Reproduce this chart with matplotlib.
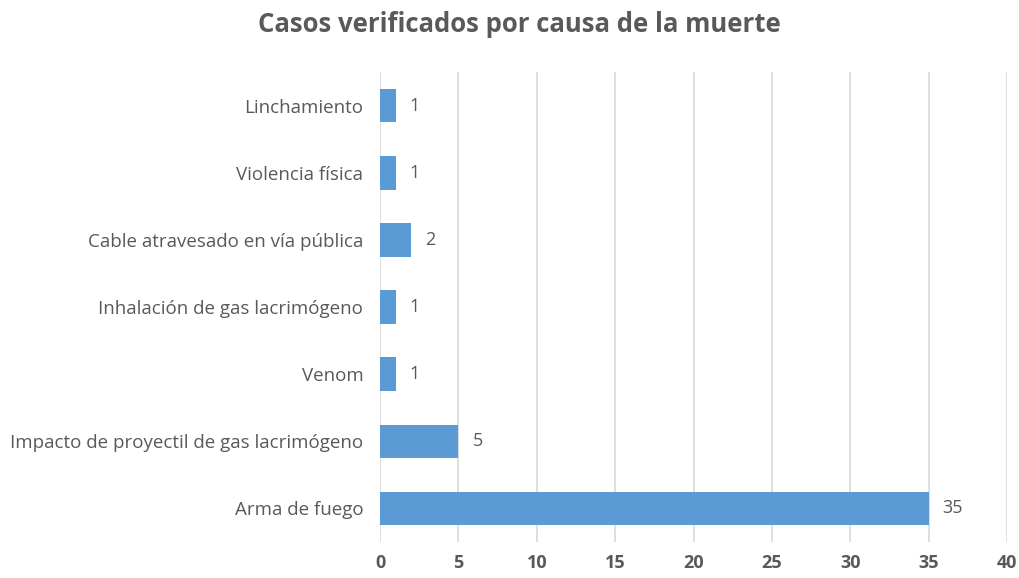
import matplotlib
matplotlib.use("Agg")
from matplotlib import pyplot as plt

causes = ["Arma de fuego",
          "Impacto de proyectil de gas lacrimógeno",
          "Venom",
          "Inhalación de gas lacrimógeno",
          "Cable atravesado en vía pública",
          "Violencia física",
          "Linchamiento"]
cases = [35, 5, 1, 1, 2, 1, 1]
x_ticks = [0, 5, 10, 15, 20, 25, 30, 35, 40]

gray = "#595959"
plt.rcParams["font.family"] = ["Open Sans", "DejaVu Sans"]

fig = plt.figure(figsize=(10.19, 5.78), dpi=100)
ax = fig.add_axes([380 / 1019, 1 - 542 / 578, (1007 - 380) / 1019, (542 - 72) / 578])

pos = range(len(causes))
bars = ax.barh(pos, cases, height=0.5, color="#5B9BD5", zorder=3)
for b, v in zip(bars, cases):
  ax.text(b.get_width() + 0.9, b.get_y() + b.get_height() / 2, str(v),
          va="center", ha="left", fontsize=13, color=gray)

ax.set_xlim(0, 40)
ax.set_ylim(-0.5, len(causes) - 0.5)
ax.set_xticks(x_ticks)
ax.set_xticklabels([str(t) for t in x_ticks], fontsize=13, fontweight="bold", color=gray)
ax.set_yticks(list(pos))
ax.set_yticklabels(causes, fontsize=13.5, color=gray)
ax.tick_params(length=0, pad=9, axis="x")
ax.tick_params(length=0, pad=12, axis="y")
ax.grid(axis="x", color="#D9D9D9", linewidth=1.2, zorder=0)
for s in ax.spines.values():
  s.set_visible(False)

fig.text(519 / 1019, 1 - 24 / 578, "Casos verificados por causa de la muerte",
         ha="center", va="center", fontsize=18.5, fontweight="bold", color=gray)

fig.savefig("out.png", dpi=100)
